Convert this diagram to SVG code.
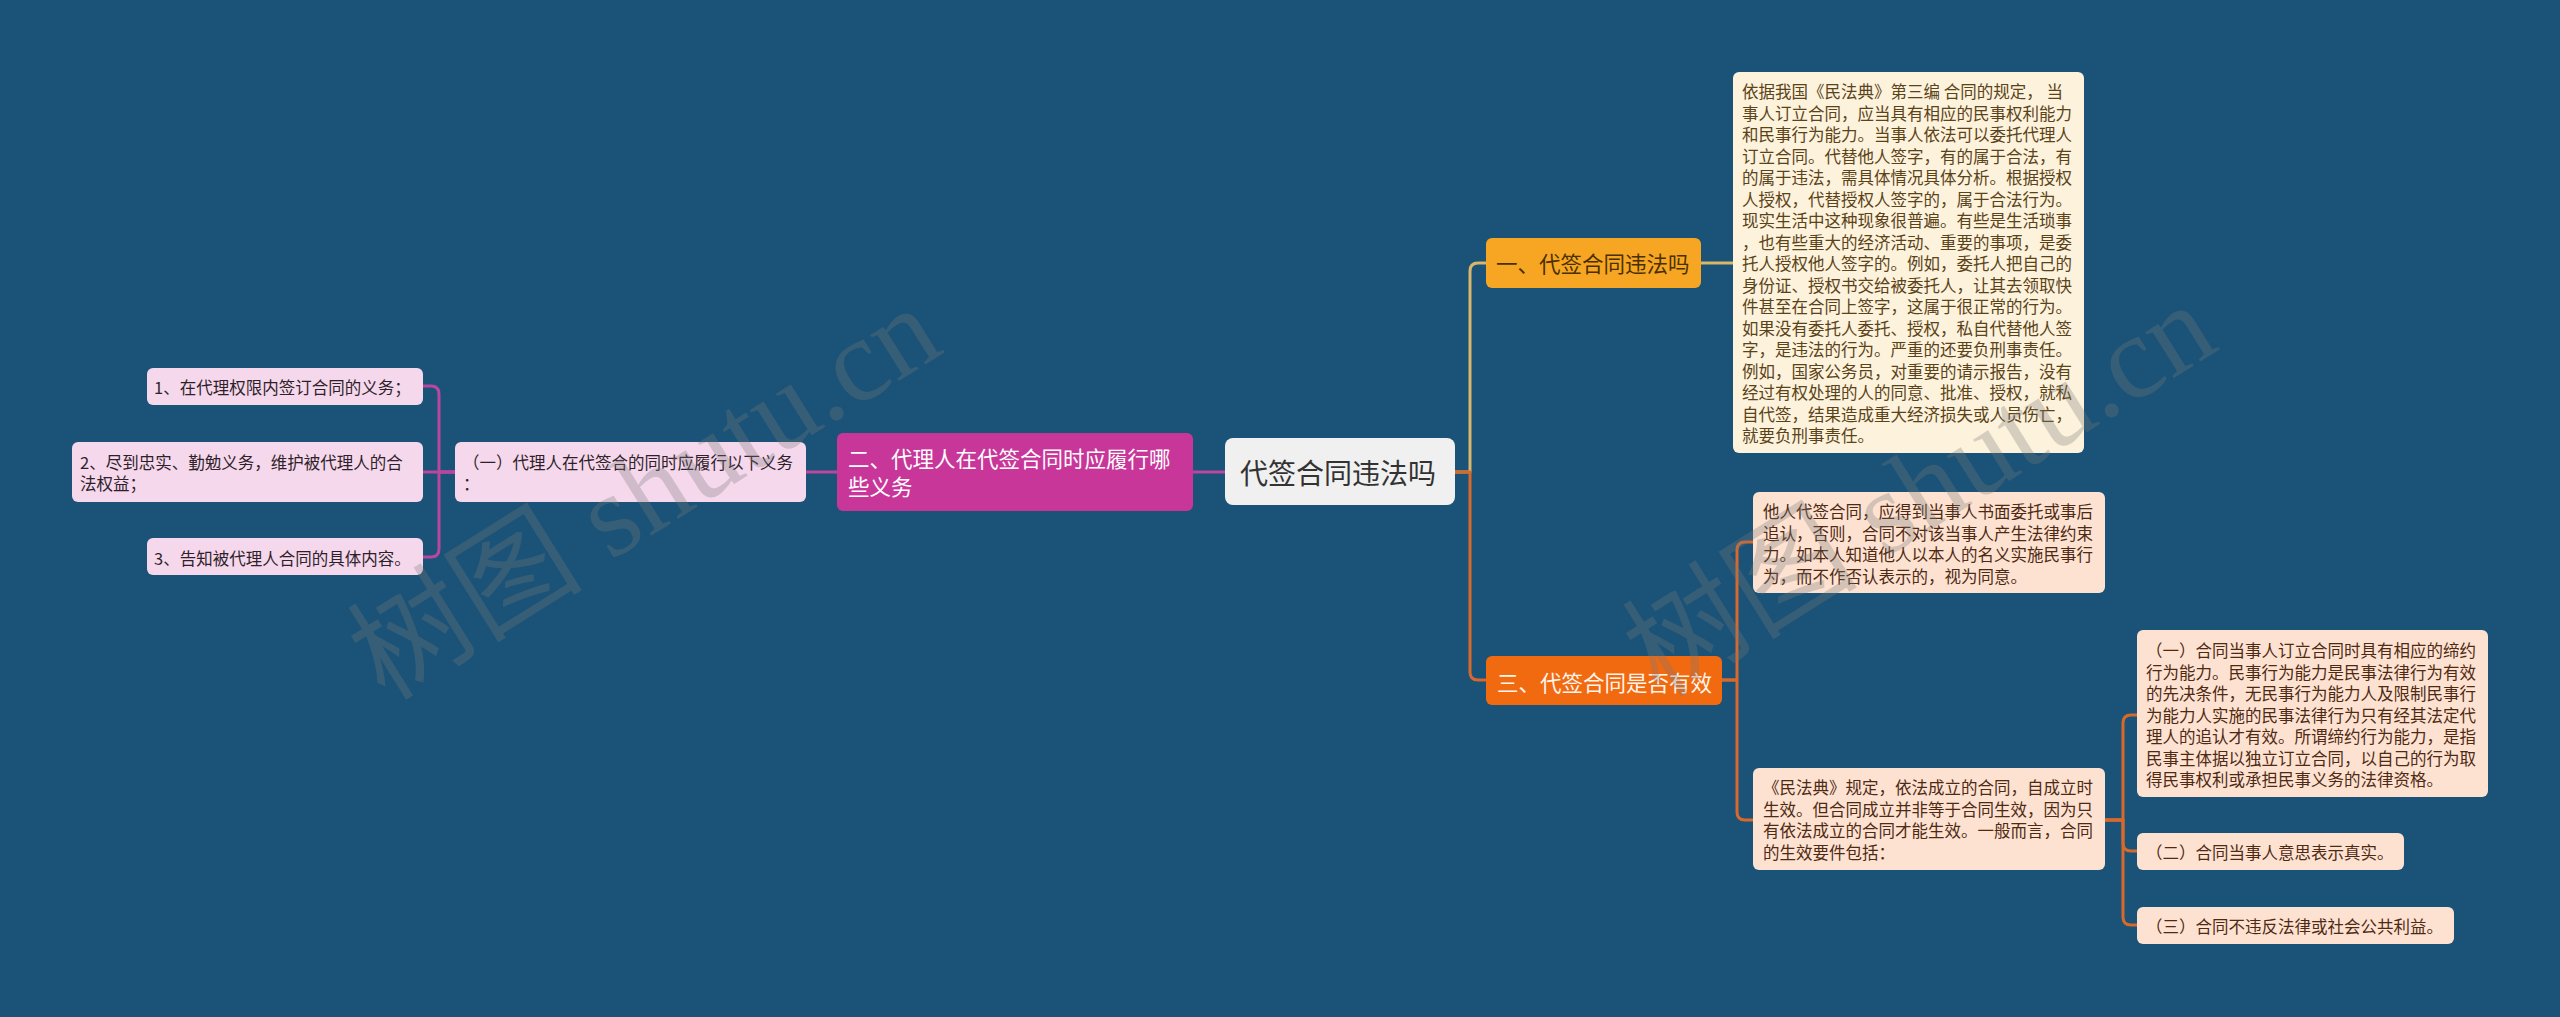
<svg xmlns="http://www.w3.org/2000/svg" width="2560" height="1017" viewBox="0 0 2560 1017">
<style>
text{font-family:"Noto Sans CJK SC","Noto Sans",sans-serif;}
.t{font-size:16.5px;}
.b{font-size:21.5px;}
.c{fill:none;stroke-width:3;stroke-linejoin:round;}
.tan{stroke:#d8b66a;}
.org{stroke:#d7692c;}
.pur{stroke:#b9479f;}
.wm{font-family:"Liberation Serif","Noto Sans CJK SC",serif;font-size:118px;fill:#7a7a7a;opacity:0.3;}
</style>
<rect width="2560" height="1017" fill="#1a5377"/>
<g id="connectors">
<path class="c tan" d="M1455 472 H1470 V271 Q1470 263 1478 263 H1486"/>
<path class="c tan" d="M1701 263 H1733"/>
<path class="c org" d="M1455 472 H1470 V672 Q1470 680 1478 680 H1486"/>
<path class="c org" d="M1722 680 H1737 V550 Q1737 542 1745 542 H1753"/>
<path class="c org" d="M1722 680 H1737 V812 Q1737 820 1745 820 H1753"/>
<path class="c org" d="M2105 820 H2123 V723 Q2123 715 2131 715 H2137"/>
<path class="c org" d="M2105 820 H2123 V843 Q2123 851 2131 851 H2137"/>
<path class="c org" d="M2105 820 H2123 V917 Q2123 925 2131 925 H2137"/>
<path class="c pur" d="M1225 472 H1193"/>
<path class="c pur" d="M837 472 H806"/>
<path class="c pur" d="M455 472 H439 V394 Q439 386 431 386 H423"/>
<path class="c pur" d="M455 472 H423"/>
<path class="c pur" d="M455 472 H439 V549 Q439 557 431 557 H423"/>
</g>
<g id="root">
<rect x="1225" y="438" width="230" height="67" rx="8" fill="#f0f0f0"/>
<text x="1240" y="484" font-size="28" fill="#333333">代签合同违法吗</text>
</g>
<g id="branch1">
<rect x="1486" y="238" width="215" height="50" rx="6" fill="#f7a623"/>
<text class="b" x="1496" y="272" fill="#4a3000">一、代签合同违法吗</text>
</g>
<g id="branch1-text">
<rect x="1733" y="72" width="351" height="381" rx="6" fill="#fdf2dc"/>
<text class="t" fill="#5a4318">
<tspan x="1742" y="98">依据我国《民法典》第三编 合同的规定， 当</tspan>
<tspan x="1742" y="119.5">事人订立合同，应当具有相应的民事权利能力</tspan>
<tspan x="1742" y="141">和民事行为能力。当事人依法可以委托代理人</tspan>
<tspan x="1742" y="162.5">订立合同。代替他人签字，有的属于合法，有</tspan>
<tspan x="1742" y="184">的属于违法，需具体情况具体分析。根据授权</tspan>
<tspan x="1742" y="205.5">人授权，代替授权人签字的，属于合法行为。</tspan>
<tspan x="1742" y="227">现实生活中这种现象很普遍。有些是生活琐事</tspan>
<tspan x="1742" y="248.5">，也有些重大的经济活动、重要的事项，是委</tspan>
<tspan x="1742" y="270">托人授权他人签字的。例如，委托人把自己的</tspan>
<tspan x="1742" y="291.5">身份证、授权书交给被委托人，让其去领取快</tspan>
<tspan x="1742" y="313">件甚至在合同上签字，这属于很正常的行为。</tspan>
<tspan x="1742" y="334.5">如果没有委托人委托、授权，私自代替他人签</tspan>
<tspan x="1742" y="356">字，是违法的行为。严重的还要负刑事责任。</tspan>
<tspan x="1742" y="377.5">例如，国家公务员，对重要的请示报告，没有</tspan>
<tspan x="1742" y="399">经过有权处理的人的同意、批准、授权，就私</tspan>
<tspan x="1742" y="420.5">自代签，结果造成重大经济损失或人员伤亡，</tspan>
<tspan x="1742" y="442">就要负刑事责任。</tspan>
</text>
</g>
<g id="branch3">
<rect x="1486" y="656" width="236" height="49" rx="6" fill="#f26a10"/>
<text class="b" x="1497" y="691" fill="#fff5ec">三、代签合同是否有效</text>
</g>
<g id="branch3-a">
<rect x="1753" y="492" width="352" height="101" rx="6" fill="#fde2d2"/>
<text class="t" fill="#4f2a12">
<tspan x="1763" y="518">他人代签合同，应得到当事人书面委托或事后</tspan>
<tspan x="1763" y="539.5">追认，否则，合同不对该当事人产生法律约束</tspan>
<tspan x="1763" y="561">力。如本人知道他人以本人的名义实施民事行</tspan>
<tspan x="1763" y="582.5">为，而不作否认表示的，视为同意。</tspan>
</text>
</g>
<g id="branch3-b">
<rect x="1753" y="768" width="352" height="102" rx="6" fill="#fde2d2"/>
<text class="t" fill="#4f2a12">
<tspan x="1763" y="794">《民法典》规定，依法成立的合同，自成立时</tspan>
<tspan x="1763" y="815.5">生效。但合同成立并非等于合同生效，因为只</tspan>
<tspan x="1763" y="837">有依法成立的合同才能生效。一般而言，合同</tspan>
<tspan x="1763" y="858.5">的生效要件包括：</tspan>
</text>
</g>
<g id="branch3-b1">
<rect x="2137" y="630" width="351" height="167" rx="6" fill="#fde2d2"/>
<text class="t" fill="#4f2a12">
<tspan x="2146" y="657">（一）合同当事人订立合同时具有相应的缔约</tspan>
<tspan x="2146" y="678.5">行为能力。民事行为能力是民事法律行为有效</tspan>
<tspan x="2146" y="700">的先决条件，无民事行为能力人及限制民事行</tspan>
<tspan x="2146" y="721.5">为能力人实施的民事法律行为只有经其法定代</tspan>
<tspan x="2146" y="743">理人的追认才有效。所谓缔约行为能力，是指</tspan>
<tspan x="2146" y="764.5">民事主体据以独立订立合同，以自己的行为取</tspan>
<tspan x="2146" y="786">得民事权利或承担民事义务的法律资格。</tspan>
</text>
</g>
<g id="branch3-b2">
<rect x="2137" y="833" width="267" height="37" rx="6" fill="#fde2d2"/>
<text class="t" x="2146" y="859" fill="#4f2a12">（二）合同当事人意思表示真实。</text>
</g>
<g id="branch3-b3">
<rect x="2137" y="907" width="317" height="37" rx="6" fill="#fde2d2"/>
<text class="t" x="2146" y="933" fill="#4f2a12">（三）合同不违反法律或社会公共利益。</text>
</g>
<g id="branch2">
<rect x="837" y="433" width="356" height="78" rx="6" fill="#c9369a"/>
<text class="b" fill="#ffffff">
<tspan x="848" y="467">二、代理人在代签合同时应履行哪</tspan>
<tspan x="848" y="495">些义务</tspan>
</text>
</g>
<g id="branch2-sub">
<rect x="455" y="442" width="351" height="60" rx="6" fill="#f5d8ec"/>
<text class="t" fill="#2f1f2a">
<tspan x="463" y="469">（一）代理人在代签合的同时应履行以下义务</tspan>
<tspan x="463" y="490">：</tspan>
</text>
</g>
<g id="leaf1">
<rect x="147" y="368" width="276" height="37" rx="6" fill="#f5d8ec"/>
<text class="t" x="154" y="394" fill="#2f1f2a">1、在代理权限内签订合同的义务；</text>
</g>
<g id="leaf2">
<rect x="72" y="442" width="351" height="60" rx="6" fill="#f5d8ec"/>
<text class="t" fill="#2f1f2a">
<tspan x="80" y="469">2、尽到忠实、勤勉义务，维护被代理人的合</tspan>
<tspan x="80" y="490">法权益；</tspan>
</text>
</g>
<g id="leaf3">
<rect x="147" y="538" width="276" height="37" rx="6" fill="#f5d8ec"/>
<text class="t" x="154" y="565" fill="#2f1f2a">3、告知被代理人合同的具体内容。</text>
</g>
<g id="watermark">
<text class="wm" transform="translate(385 702) rotate(-32)">树图 shutu.cn</text>
<text class="wm" transform="translate(1660 699) rotate(-32)">树图 shutu.cn</text>
</g>
</svg>
